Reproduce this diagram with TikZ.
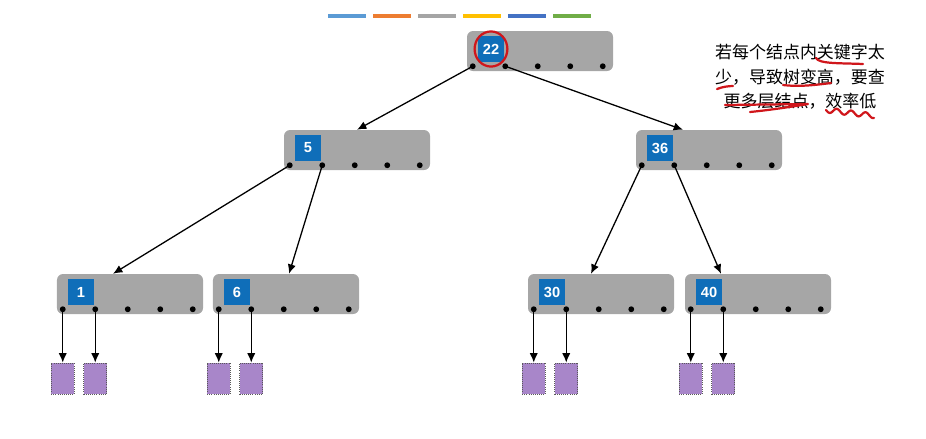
\documentclass[tikz,border=0pt]{standalone}
\usepackage{fontspec}
\setmainfont{Liberation Sans}
\newfontfamily\cjk{Noto Sans CJK SC}
\usetikzlibrary{arrows.meta}
\usetikzlibrary{positioning}
\usetikzlibrary{calc}
\definecolor{boxgray}{HTML}{A6A6A6}
\definecolor{keyblue}{HTML}{0F6EB9}
\definecolor{leafpurple}{HTML}{A886C9}
\definecolor{penred}{HTML}{D0161B}

\tikzset{
  bbox/.style={fill=boxgray, rounded corners=0.18cm, minimum width=4.38cm, minimum height=1.2cm, inner sep=0pt},
  keybox/.style={fill=keyblue, text=white, font=\bfseries\fontsize{12.5}{12.5}\selectfont, minimum size=0.78cm, inner sep=0pt, anchor=north west},
  leaf/.style={fill=leafpurple, draw=black!65, densely dotted, line width=0.8pt, minimum width=0.69cm, minimum height=0.93cm, inner sep=0pt, anchor=north},
  ptr/.style={-{Latex[length=8pt,width=7pt]}, line width=1.1pt},
  scribble/.style={penred, line width=1.9pt, line cap=round, line join=round}
}

% one B-tree node: name, x, y, key
\newcommand{\btnode}[4]{%
  \node[bbox] (#1) at (#2,#3) {};
  \node[keybox] (#1k) at ($(#1.north west)+(11,5)$) {#4};
  \foreach \i in {1,...,5}{
    \coordinate (#1p\i) at ($(#1.south west)+({6+32.5*(\i-1)},-5)$);
    \fill (#1p\i) circle (2.5pt);
  }
}

\begin{document}
\begin{tikzpicture}[x=0.03cm, y=-0.03cm]
  \useasboundingbox (0,0) rectangle (926,438);

  % colour bars
  \foreach \c [count=\k from 0] in {5B9BD5,ED7D31,A5A5A5,FFC000,4472C4,70AD47}{
    \definecolor{barcol}{HTML}{\c}
    \fill[barcol] ({328+45*\k},14) rectangle ({366+45*\k},18);
  }

  % nodes
  \btnode{n22}{540}{51}{22}
  \btnode{n5}{357}{150}{5}
  \btnode{n36}{709}{150}{36}
  \btnode{n1}{130}{294}{1}
  \btnode{n6}{286}{294}{6}
  \btnode{n30}{601}{294}{30}
  \btnode{n40}{758}{294}{40}

  % pointers between levels
  \draw[ptr] (n22p1) -- (n5.north);
  \draw[ptr] (n22p2) -- ($(n36.north)+(-26,0)$);
  \draw[ptr] (n5p1) -- ($(n1.north)+(-17,0)$);
  \draw[ptr] (n5p2) -- ($(n6.north)+(3,0)$);
  \draw[ptr] (n36p1) -- ($(n30.north)+(-10,0)$);
  \draw[ptr] (n36p2) -- ($(n40.north)+(-37,0)$);

  % leaves
  \foreach \n in {n1,n6,n30,n40}{
    \node[leaf, below=1.6cm of \n p1] (\n a) {};
    \node[leaf, below=1.6cm of \n p2] (\n b) {};
    \draw[ptr] (\n p1) -- (\n a);
    \draw[ptr] (\n p2) -- (\n b);
  }

  % note
  \node[font=\cjk\fontsize{14.5}{20.9}\selectfont, align=center] (note) at (800,77)
    {若每个结点内关键字太\\少，导致树变高，要查\\更多层结点，效率低};

  % red pen marks
  \draw[scribble] (n22k) ellipse (14pt and 15pt);
  \draw[scribble] (816,58) .. controls (819,64) and (840,63) .. (863,64);
  \draw[scribble] (717,89) .. controls (722,87) and (728,86) .. (733,86);
  \draw[scribble] (783,85) .. controls (800,87) and (815,85) .. (831,83);
  \draw[scribble] (725,105) -- (808,104) .. controls (790,107) and (770,110) .. (750,112);
  \draw[scribble] plot[domain=0:48, samples=60] ({826+\x},{110+\x*0.12+2.5*sin(\x*25)});
\end{tikzpicture}
\end{document}
